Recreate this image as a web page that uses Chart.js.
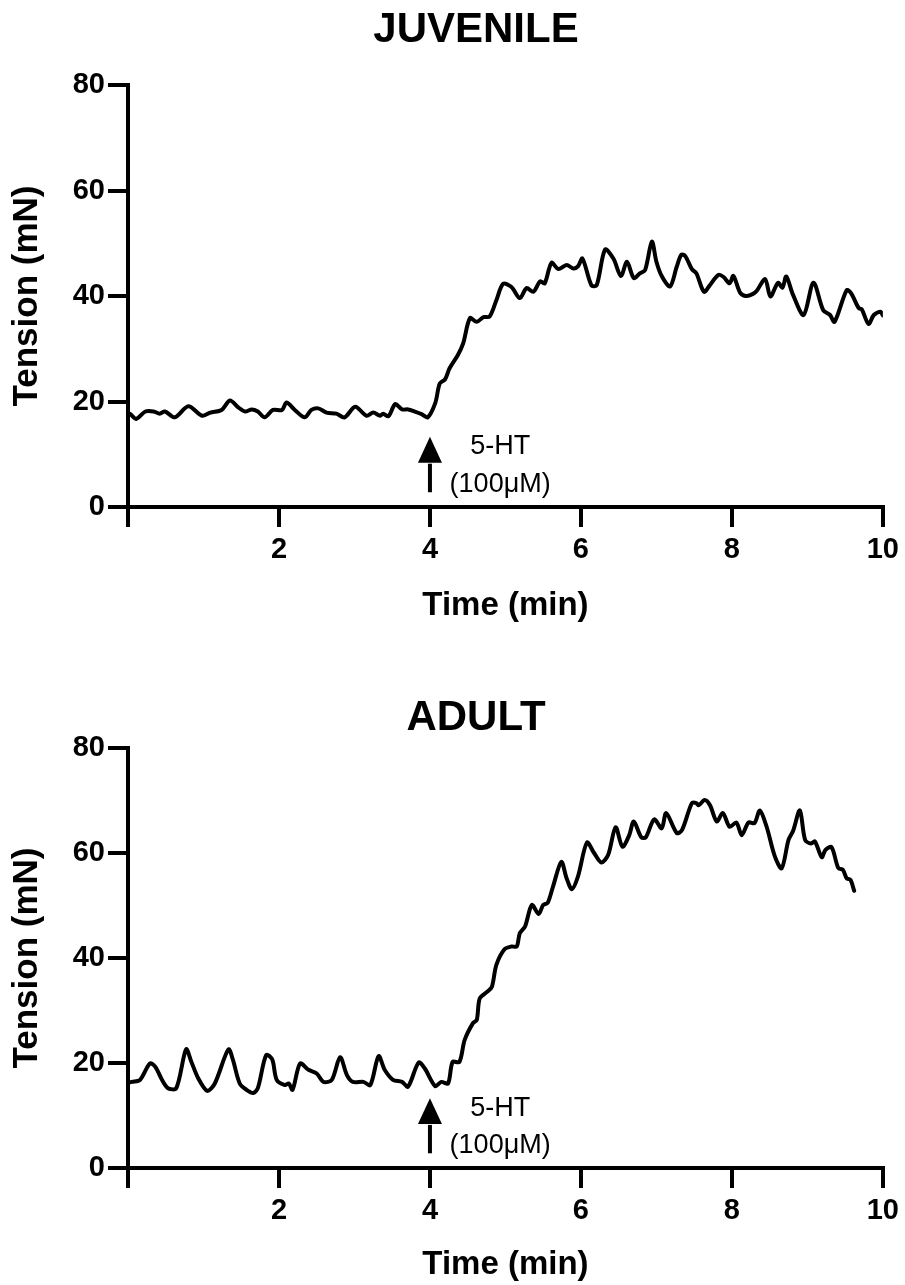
<!DOCTYPE html>
<html>
<head>
<meta charset="utf-8">
<script src="https://cdn.jsdelivr.net/npm/chart.js@4.4.1/dist/chart.umd.min.js"></script>
<style>
  html, body { margin: 0; padding: 0; background: #ffffff; }
  #wrap { position: relative; width: 905px; height: 1285px; }
  canvas { position: absolute; left: 0; }
  #juvenile { top: 0; }
  #adult { top: 640px; }
</style>
</head>
<body>
<div id="wrap">
  <canvas id="juvenile" width="905" height="640"></canvas>
  <canvas id="adult" width="905" height="645"></canvas>
</div>
<script>
// Isometric tension traces (time in min, tension in mN)
const juvenileTime = [
  0.00, 0.03, 0.11, 0.23, 0.34, 0.42, 0.49, 0.62, 0.80, 0.98,
  1.09, 1.24, 1.35, 1.46, 1.55, 1.64, 1.72, 1.81, 1.92, 2.04,
  2.10, 2.21, 2.34, 2.43, 2.52, 2.63, 2.76, 2.87, 3.01, 3.16,
  3.25, 3.34, 3.38, 3.45, 3.54, 3.63, 3.71, 3.80, 3.89, 3.97,
  4.07, 4.13, 4.20, 4.26, 4.37, 4.44, 4.53, 4.62, 4.71, 4.79,
  4.88, 4.97, 5.08, 5.19, 5.28, 5.37, 5.46, 5.52, 5.61, 5.70,
  5.81, 5.90, 5.96, 6.02, 6.14, 6.21, 6.32, 6.43, 6.53, 6.61,
  6.70, 6.78, 6.85, 6.94, 7.00, 7.07, 7.18, 7.27, 7.33, 7.38,
  7.47, 7.53, 7.63, 7.71, 7.82, 7.89, 7.97, 8.02, 8.11, 8.19,
  8.28, 8.33, 8.44, 8.51, 8.61, 8.67, 8.72, 8.81, 8.95, 9.08,
  9.21, 9.30, 9.36, 9.52, 9.58, 9.68, 9.72, 9.81, 9.88, 9.97,
  10.00
];
const juvenileTension = [
  17.8, 17.6, 16.7, 18.1, 18.1, 17.7, 18.1, 17.0, 19.1, 17.3,
  17.9, 18.4, 20.2, 18.9, 18.1, 18.5, 18.1, 17.0, 18.4, 18.4,
  19.8, 18.4, 17.0, 18.4, 18.7, 17.9, 17.7, 17.0, 19.0, 17.3,
  17.9, 17.3, 17.7, 17.2, 19.5, 18.5, 18.5, 18.1, 17.6, 17.0,
  19.7, 23.4, 24.2, 26.3, 28.8, 31.0, 35.8, 35.1, 36.0, 36.1,
  39.2, 42.3, 41.7, 39.6, 41.5, 40.8, 42.8, 42.4, 46.3, 45.1,
  45.9, 45.2, 45.6, 47.1, 42.0, 42.1, 48.8, 47.1, 43.8, 46.5,
  43.4, 44.3, 44.9, 50.3, 46.5, 43.8, 41.8, 45.6, 47.8, 47.6,
  45.1, 44.3, 40.8, 42.1, 44.0, 43.6, 42.4, 43.8, 40.6, 40.0,
  40.4, 41.0, 43.2, 39.9, 42.5, 41.6, 43.7, 40.2, 36.4, 42.5,
  37.3, 36.4, 35.1, 41.1, 40.5, 37.7, 37.5, 34.7, 36.4, 37.0,
  36.3
];

const adultTime = [
  0.00, 0.05, 0.16, 0.29, 0.36, 0.45, 0.53, 0.64, 0.77, 0.84,
  0.93, 1.05, 1.15, 1.33, 1.39, 1.48, 1.57, 1.66, 1.72, 1.83,
  1.91, 1.97, 2.08, 2.13, 2.18, 2.28, 2.39, 2.50, 2.59, 2.70,
  2.81, 2.90, 2.98, 3.12, 3.21, 3.32, 3.40, 3.51, 3.63, 3.71,
  3.85, 3.93, 4.07, 4.15, 4.24, 4.30, 4.39, 4.46, 4.57, 4.62,
  4.66, 4.76, 4.82, 4.88, 4.99, 5.08, 5.15, 5.19, 5.26, 5.35,
  5.44, 5.50, 5.56, 5.63, 5.74, 5.81, 5.88, 5.96, 6.08, 6.17,
  6.27, 6.36, 6.46, 6.55, 6.64, 6.70, 6.80, 6.86, 6.97, 7.07,
  7.13, 7.27, 7.34, 7.47, 7.53, 7.56, 7.64, 7.71, 7.80, 7.88,
  7.97, 8.06, 8.13, 8.22, 8.30, 8.37, 8.46, 8.57, 8.66, 8.75,
  8.81, 8.90, 8.97, 9.05, 9.10, 9.19, 9.24, 9.32, 9.41, 9.47,
  9.52, 9.57, 9.62
];
const adultTension = [
  16.2, 16.4, 16.8, 19.9, 19.3, 16.8, 15.2, 15.2, 22.6, 20.2,
  17.1, 14.7, 16.1, 22.6, 20.6, 16.1, 14.9, 14.3, 15.2, 21.5,
  20.7, 16.8, 15.8, 16.1, 14.9, 19.9, 18.7, 18.0, 16.4, 16.8,
  21.1, 17.7, 16.4, 16.4, 15.8, 21.3, 18.7, 16.8, 16.4, 15.5,
  20.1, 19.0, 15.6, 16.4, 16.1, 20.2, 20.2, 24.4, 27.6, 28.2,
  32.3, 33.6, 34.5, 38.7, 41.7, 42.2, 42.2, 44.7, 46.0, 50.1,
  48.4, 50.1, 50.5, 53.6, 58.3, 55.2, 53.1, 55.5, 62.0, 60.1,
  58.2, 59.6, 64.9, 61.2, 63.4, 66.0, 63.0, 63.0, 66.4, 64.7,
  67.6, 63.8, 64.4, 69.5, 69.5, 69.1, 70.1, 69.1, 66.0, 67.6,
  65.0, 65.8, 63.4, 65.8, 65.7, 68.1, 65.0, 59.3, 57.1, 62.5,
  64.2, 68.1, 62.5, 61.8, 62.2, 59.2, 60.6, 61.1, 57.1, 56.8,
  55.2, 54.9, 52.8
];

// Axis ticks
const timeTicks = [0, 2, 4, 6, 8, 10];
const tensionTicks = [0, 20, 40, 60, 80];

const FONT = "'Liberation Sans', Arial, Helvetica, sans-serif";

// Panel heading drawn above the plot
const panelHeading = {
  id: 'panelHeading',
  afterDraw(chart, args, opts) {
    const ctx = chart.ctx;
    ctx.save();
    ctx.font = `bold ${opts.size}px ${FONT}`;
    ctx.fillStyle = '#000';
    ctx.textAlign = 'center';
    ctx.textBaseline = 'middle';
    ctx.fillText(opts.text, opts.x, opts.y);
    ctx.restore();
  }
};

// 5-HT application marker (arrow at t = 4 min with label)
const drugMarker = {
  id: 'drugMarker',
  afterDatasetsDraw(chart, args, opts) {
    const xs = chart.scales.x, ys = chart.scales.y, ctx = chart.ctx;
    const x = xs.getPixelForValue(opts.time);
    const yTip = ys.getPixelForValue(opts.tip);
    const yBase = ys.getPixelForValue(opts.headBase);
    const yTail = ys.getPixelForValue(opts.tail);
    ctx.save();
    ctx.strokeStyle = '#000';
    ctx.fillStyle = '#000';
    ctx.lineWidth = 4;
    ctx.beginPath();
    ctx.moveTo(x, yTail);
    ctx.lineTo(x, yBase + 1);
    ctx.stroke();
    ctx.beginPath();
    ctx.moveTo(x, yTip);
    ctx.lineTo(x - 12, yBase);
    ctx.lineTo(x + 12, yBase);
    ctx.closePath();
    ctx.fill();
    ctx.font = `${opts.fontSize}px ${FONT}`;
    ctx.textAlign = 'center';
    ctx.textBaseline = 'middle';
    const tx = xs.getPixelForValue(opts.textTime);
    ctx.fillText(opts.lines[0], tx, ys.getPixelForValue(opts.line1));
    ctx.fillText(opts.lines[1], tx, ys.getPixelForValue(opts.line2));
    ctx.restore();
  }
};

function buildChart(id, heading, times, values, layoutCfg) {
  const points = times.map((t, i) => ({ x: t, y: values[i] }));
  return new Chart(document.getElementById(id), {
    type: 'line',
    data: {
      datasets: [{
        data: points,
        borderColor: '#000',
        borderWidth: 4,
        pointRadius: 0,
        tension: 0.3,
        borderJoinStyle: 'round',
        borderCapStyle: 'round',
        fill: false
      }]
    },
    options: {
      responsive: false,
      animation: false,
      devicePixelRatio: 1,
      layout: { padding: { top: layoutCfg.top, right: 22, bottom: 0, left: 0 } },
      plugins: {
        legend: { display: false },
        tooltip: { enabled: false },
        panelHeading: { text: heading, x: 476, y: layoutCfg.headingY, size: 42 },
        drugMarker: {
          time: 4, tip: 13.3, headBase: 8.4, tail: 2.8,
          textTime: 4.93, line1: 11.4, line2: 4.2,
          lines: ['5-HT', '(100\u03BCM)'], fontSize: 27
        }
      },
      scales: {
        x: {
          type: 'linear',
          min: 0, max: 10,
          afterBuildTicks: s => { s.ticks = timeTicks.map(v => ({ value: v })); },
          afterFit: s => { s.height = layoutCfg.xHeight; },
          ticks: {
            color: '#000',
            padding: 6,
            maxRotation: 0,
            font: { family: FONT, size: 29, weight: 'bold' },
            callback: v => (v === 0 ? '' : String(v))
          },
          grid: {
            display: true, drawOnChartArea: false, drawTicks: true,
            tickLength: 20, lineWidth: 4, tickWidth: 4, color: '#000'
          },
          border: { display: true, color: '#000', width: 4 },
          title: {
            display: true, text: 'Time (min)', color: '#000',
            font: { family: FONT, size: 33, weight: 'bold' },
            padding: { top: 0, bottom: layoutCfg.xTitlePad }
          }
        },
        y: {
          type: 'linear',
          min: 0, max: 80,
          afterBuildTicks: s => { s.ticks = tensionTicks.map(v => ({ value: v })); },
          afterFit: s => { s.width = 128; },
          ticks: {
            color: '#000',
            padding: 3,
            font: { family: FONT, size: 29, weight: 'bold' }
          },
          grid: {
            display: true, drawOnChartArea: false, drawTicks: true,
            tickLength: 20, lineWidth: 4, tickWidth: 4, color: '#000'
          },
          border: { display: true, color: '#000', width: 4 },
          title: {
            display: true, text: 'Tension (mN)', color: '#000',
            font: { family: FONT, size: 35, weight: 'bold' },
            padding: { top: 6, bottom: 0 }
          }
        }
      }
    },
    plugins: [panelHeading, drugMarker]
  });
}

buildChart('juvenile', 'JUVENILE', juvenileTime, juvenileTension,
  { top: 85, xHeight: 133, xTitlePad: 14, headingY: 30 });
buildChart('adult', 'ADULT', adultTime, adultTension,
  { top: 108, xHeight: 117, xTitlePad: 0, headingY: 78 });
</script>
</body>
</html>
